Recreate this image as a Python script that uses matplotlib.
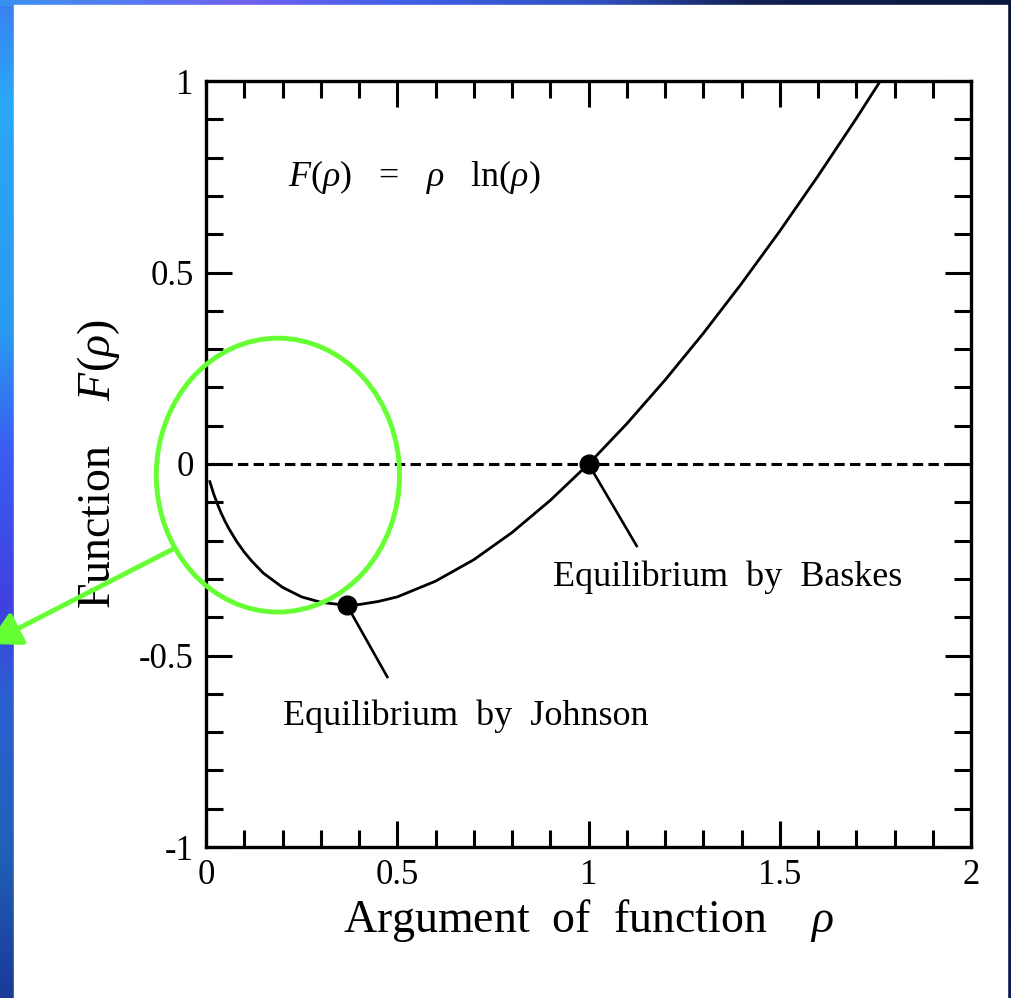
import numpy as np
import matplotlib.pyplot as plt
from matplotlib.patches import Ellipse, Rectangle, FancyArrowPatch
from matplotlib.colors import to_rgb
from matplotlib.ticker import MultipleLocator

plt.rcParams['font.family'] = 'Liberation Serif'
plt.rcParams['mathtext.fontset'] = 'custom'
plt.rcParams['mathtext.rm'] = 'Liberation Serif'
plt.rcParams['mathtext.it'] = 'Liberation Serif:italic'
plt.rcParams['lines.scale_dashes'] = False

# curve F(rho) = rho ln(rho)
rho = [0.01, 0.02, 0.03, 0.04, 0.05, 0.06, 0.08, 0.10, 0.12, 0.15, 0.20,
       0.25, 0.30, 0.35, 0.37, 0.40, 0.45, 0.50, 0.60, 0.70, 0.80, 0.90,
       1.00, 1.10, 1.20, 1.30, 1.40, 1.50, 1.60, 1.70, 1.77]
F = [-0.046, -0.078, -0.105, -0.129, -0.150, -0.169, -0.202, -0.230, -0.254,
     -0.285, -0.322, -0.347, -0.361, -0.367, -0.368, -0.367, -0.359, -0.347,
     -0.306, -0.250, -0.179, -0.095, 0.0, 0.105, 0.219, 0.341, 0.471, 0.608,
     0.752, 0.902, 1.011]

# zero reference line
zero_x = [0, 2]
zero_y = [0, 0]

# equilibrium points (Johnson, Baskes)
eq_rho = [0.368, 1.0]
eq_F = [-0.368, 0.0]
eq_labels = ['Equilibrium  by  Johnson', 'Equilibrium  by  Baskes']

xticks = [0, 0.5, 1, 1.5, 2]
xticklabels = ['0', '0.5', '1', '1.5', '2']
yticks = [-1, -0.5, 0, 0.5, 1]
yticklabels = ['-1', '-0.5', '0', '0.5', '1']

W, H = 1011, 998
fig = plt.figure(figsize=(W / 100, H / 100), dpi=100)

# blue slide background with white panel
def ramp(pos, stops, n):
    cols = np.array([to_rgb(c) for c in stops])
    return np.stack([np.interp(np.arange(n), pos, cols[:, k]) for k in range(3)], axis=1)

left = ramp([0, 100, 330, 450, 600, 700, 850, 998],
            ['#3a80f0', '#2aa8f8', '#2a9af0', '#3a5ef0', '#4040e0', '#2a60d0',
             '#2060b8', '#1a3a98'], H)
top = ramp([0, 100, 250, 400, 600, 750, 1011],
           ['#3a90f0', '#5080f0', '#7060f0', '#4060e8', '#3050c0', '#102050',
            '#0a1840'], W)
right = ramp([0, 998], ['#0a1535', '#0a1a50'], H)
img = np.repeat(left[:, None, :], W, axis=1)
img[:, 1005:, :] = right[:, None, :]
img[:6, :, :] = top[None, :, :]

bg = fig.add_axes([0, 0, 1, 1], zorder=-10)
bg.imshow(img, extent=[0, W, H, 0], aspect='auto', interpolation='bilinear')
bg.add_patch(Rectangle((14, 5), 993, 1000, color='white'))
bg.set_xlim(0, W)
bg.set_ylim(H, 0)
bg.axis('off')

ax = fig.add_axes([206 / W, 151 / H, 765 / W, 766 / H])
ax.set_facecolor('none')

ax.plot(zero_x, zero_y, color='k', lw=2.2, dashes=(7.5, 3.8))
ax.plot(rho, F, color='k', lw=2.0)
ax.plot(eq_rho, eq_F, 'o', color='k', ms=13.5)

# leader lines and labels
ax.plot([eq_rho[0], 0.474], [eq_F[0], -0.556], color='k', lw=1.9)
ax.plot([eq_rho[1], 1.126], [eq_F[1], -0.214], color='k', lw=1.9)
ax.text(0.68, -0.658, eq_labels[0], ha='center', va='center', fontsize=26)
ax.text(1.364, -0.295, eq_labels[1], ha='center', va='center', fontsize=26)
ax.text(0.545, 0.749, r'$F(\rho)$   =   $\rho$   ln($\rho$)', ha='center',
        va='center', fontsize=26)

ax.set_xlim(0, 2)
ax.set_ylim(-1, 1)
ax.set_xticks(xticks)
ax.set_xticklabels(xticklabels)
ax.set_yticks(yticks)
ax.set_yticklabels(yticklabels)
ax.xaxis.set_minor_locator(MultipleLocator(0.1))
ax.yaxis.set_minor_locator(MultipleLocator(0.1))
ax.tick_params(which='both', direction='in', top=True, right=True, width=2.2,
               labelsize=25)
ax.tick_params(which='major', length=19, pad=9)
ax.tick_params(which='minor', length=12)
for s in ax.spines.values():
    s.set_linewidth(2.4)

ax.set_xlabel(r'Argument  of  function    $\rho$', fontsize=33, labelpad=3)
ax.set_ylabel(r'Function    $F(\rho)$', fontsize=33, labelpad=12)

# green highlight
ax.add_patch(Ellipse((0.188, -0.029), 0.636, 0.715, fill=False, ec='#66ff33',
                     lw=3.5, clip_on=False, zorder=5))
fig.add_artist(FancyArrowPatch((175 / W, 1 - 548 / H), (-12 / W, 1 - 644 / H),
                               transform=fig.transFigure,
                               arrowstyle='-|>,head_length=1.1,head_width=0.6',
                               mutation_scale=18, color='#66ff33', lw=3.5,
                               shrinkA=0, shrinkB=0))

fig.savefig('out.png', dpi=100)
